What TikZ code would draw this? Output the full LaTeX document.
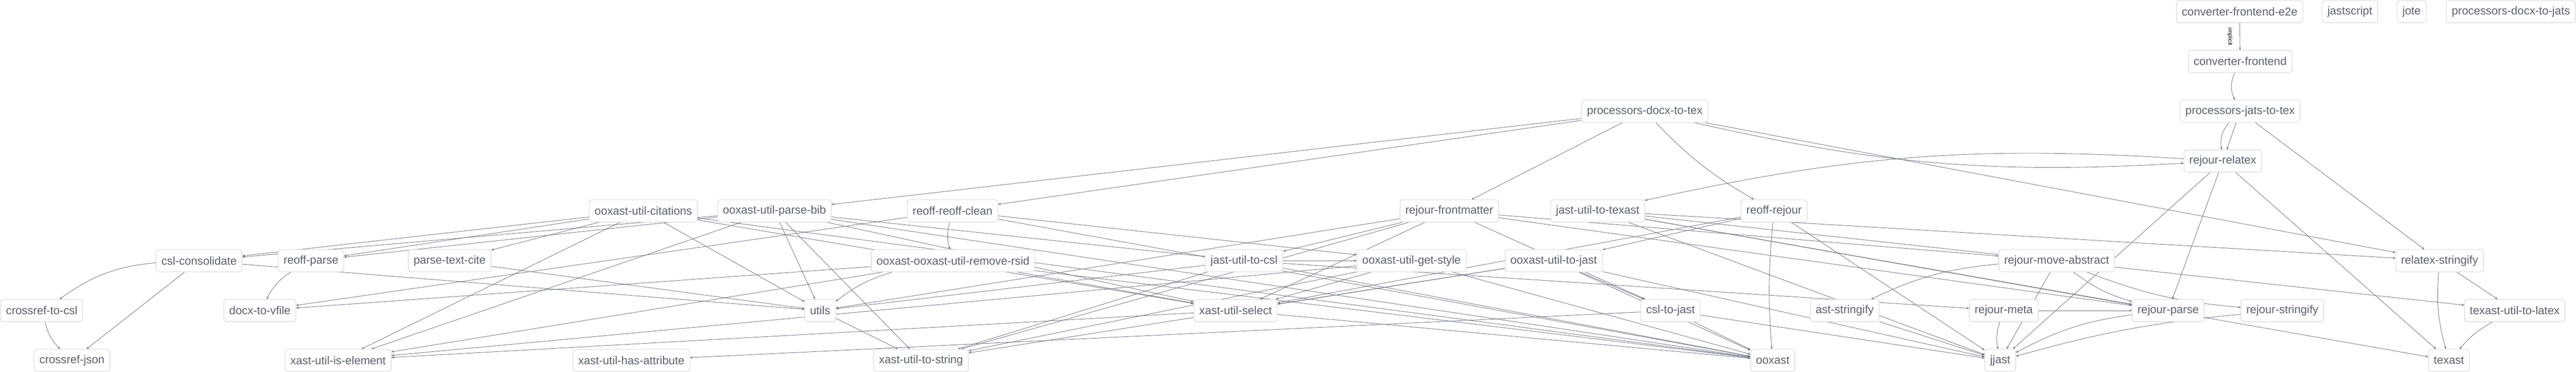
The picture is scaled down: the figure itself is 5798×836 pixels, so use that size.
\documentclass[tikz,border=0pt]{standalone}
\usepackage{fontspec}
\setmainfont{Liberation Sans}
\usetikzlibrary{arrows.meta}
\definecolor{nb}{HTML}{D4D6DB}
\definecolor{nt}{HTML}{5A616E}
\definecolor{ec}{HTML}{6E7481}
\pgfdeclarelayer{bg}
\pgfsetlayers{bg,main}
\begin{document}
\begin{tikzpicture}[x=0.5pt,y=-0.5pt,
  pkg/.style={draw=nb, line width=0.6pt, fill=white, rounded corners=3pt, text=nt,
    font=\fontsize{12.8pt}{15pt}\selectfont, inner xsep=6pt, inner ysep=0pt, minimum height=25pt},
  dep/.style={draw=ec, line width=0.5pt, -{Stealth[length=3pt,width=2.6pt]}},
  lbl/.style={font=\fontsize{6.5pt}{7pt}\selectfont, text=black, inner sep=0pt, rotate=-90}]
\useasboundingbox (0,0) rectangle (5798,836);
% row 1
\node[pkg] (cfe2e) at (5041,26) {converter-frontend-e2e};
\node[pkg] (jastscript) at (5289,26) {jastscript};
\node[pkg] (jote) at (5428,26) {jote};
\node[pkg, anchor=east] (pdocx2jats) at (5797,26) {processors-docx-to-jats};
% row 2
\node[pkg] (cfront) at (5042,138) {converter-frontend};
% row 3
\node[pkg] (pdocx2tex) at (3702,250) {processors-docx-to-tex};
\node[pkg] (pjats2tex) at (5042,250) {processors-jats-to-tex};
% row 4
\node[pkg] (rrelatex) at (5003,362) {rejour-relatex};
% row 5
\node[pkg] (citations) at (1448,474) {ooxast-util-citations};
\node[pkg] (parsebib) at (1743,474) {ooxast-util-parse-bib};
\node[pkg] (reoffclean) at (2144,474) {reoff-reoff-clean};
\node[pkg] (frontmatter) at (3262,474) {rejour-frontmatter};
\node[pkg] (j2texast) at (3596,474) {jast-util-to-texast};
\node[pkg] (reoffrejour) at (3993,474) {reoff-rejour};
% row 6
\node[pkg] (cslcons) at (448,586) {csl-consolidate};
\node[pkg] (reoffparse) at (700,586) {reoff-parse};
\node[pkg] (ptc) at (1012,586) {parse-text-cite};
\node[pkg] (rsid) at (2145,586) {ooxast-ooxast-util-remove-rsid};
\node[pkg] (j2csl) at (2800,586) {jast-util-to-csl};
\node[pkg] (getstyle) at (3177,586) {ooxast-util-get-style};
\node[pkg] (o2jast) at (3497,586) {ooxast-util-to-jast};
\node[pkg] (moveabs) at (4629,586) {rejour-move-abstract};
\node[pkg] (relatexstr) at (5491,586) {relatex-stringify};
% row 7
\node[pkg, anchor=west] (cr2csl) at (1,698) {crossref-to-csl};
\node[pkg] (docx2vfile) at (585,698) {docx-to-vfile};
\node[pkg] (utils) at (1846,698) {utils};
\node[pkg] (xselect) at (2781,698) {xast-util-select};
\node[pkg] (csl2jast) at (3760,698) {csl-to-jast};
\node[pkg] (aststr) at (4152,698) {ast-stringify};
\node[pkg] (rmeta) at (4510,698) {rejour-meta};
\node[pkg] (rparse) at (4880,698) {rejour-parse};
\node[pkg] (rstringify) at (5137,698) {rejour-stringify};
\node[pkg] (tex2latex) at (5660,698) {texast-util-to-latex};
% row 8
\node[pkg] (crjson) at (162,810) {crossref-json};
\node[pkg] (isel) at (761,810) {xast-util-is-element};
\node[pkg] (hasattr) at (1421,810) {xast-util-has-attribute};
\node[pkg] (tostring) at (2073,810) {xast-util-to-string};
\node[pkg] (ooxast) at (3990,810) {ooxast};
\node[pkg] (jjast) at (4502,810) {jjast};
\node[pkg] (texast) at (5512,810) {texast};
% label
\node[lbl] (implicitlbl) at (5019,82) {implicit};
\begin{pgfonlayer}{bg}
\draw[dep] (cfe2e) -- (cfront);
\draw[dep] (cfront) to[bend right=25] (pjats2tex);
\draw[dep] (pjats2tex) to[bend right=25] (rrelatex);
\draw[dep] (pdocx2tex) to[bend right=8] (rrelatex);
\draw[dep] (pdocx2tex) to[bend right=8] (reoffrejour);
\draw[dep] (rrelatex) to[bend right=8] (j2texast);
\draw[dep] (relatexstr) to[bend right=10] (texast);
\draw[dep] (tex2latex) to[bend right=10] (texast);
\draw[dep] (moveabs) to[bend right=10] (aststr);
\draw[dep] (moveabs) to[bend right=10] (rparse);
\draw[dep] (moveabs) to[bend right=8] (rstringify);
\draw[dep] (rmeta) to[bend right=15] (jjast);
\draw[dep] (rparse) to[bend right=10] (jjast);
\draw[dep] (rstringify) to[bend right=5] (jjast);
\draw[dep] (reoffrejour) to[bend right=5] (ooxast);
\draw[dep] (reoffclean) to[bend right=15] (rsid);
\draw[dep] (rsid) to[bend right=10] (utils);
\draw[dep] (cslcons) to[bend right=15] (cr2csl);
\draw[dep] (cr2csl) to[bend right=15] (crjson);
\draw[dep] (reoffparse) to[bend right=15] (docx2vfile);
\foreach \a/\b in {
  pjats2tex/rrelatex, pjats2tex/relatexstr,
  pdocx2tex/relatexstr, pdocx2tex/frontmatter, pdocx2tex/parsebib, pdocx2tex/reoffclean,
  rrelatex/rparse, rrelatex/jjast, rrelatex/texast,
  relatexstr/tex2latex,
  j2texast/relatexstr, j2texast/texast, j2texast/tex2latex, j2texast/rparse, j2texast/jjast,
  frontmatter/moveabs, frontmatter/rparse, frontmatter/j2csl, frontmatter/xselect,
  frontmatter/utils, frontmatter/tostring, frontmatter/csl2jast,
  moveabs/jjast, rmeta/rparse, aststr/jjast,
  csl2jast/jjast, csl2jast/ooxast, csl2jast/hasattr,
  o2jast/jjast, o2jast/csl2jast, o2jast/xselect, o2jast/tostring, o2jast/ooxast,
  reoffrejour/o2jast, reoffrejour/jjast, reoffrejour/xselect,
  getstyle/xselect, getstyle/ooxast, getstyle/isel, getstyle/tostring,
  j2csl/getstyle, j2csl/utils, j2csl/tostring, j2csl/ooxast, j2csl/rmeta,
  xselect/ooxast, xselect/isel,
  reoffclean/docx2vfile, reoffclean/getstyle, reoffclean/ooxast,
  rsid/xselect, rsid/ooxast, rsid/isel, rsid/docx2vfile,
  parsebib/cslcons, parsebib/reoffparse, parsebib/isel, parsebib/tostring, parsebib/utils,
  parsebib/xselect, parsebib/ooxast, parsebib/j2csl,
  citations/cslcons, citations/reoffparse, citations/ptc, citations/isel, citations/utils,
  citations/xselect, citations/ooxast,
  cslcons/crjson, cslcons/utils, ptc/utils, utils/tostring}
  \draw[dep] (\a) -- (\b);
\end{pgfonlayer}
\end{tikzpicture}
\end{document}
